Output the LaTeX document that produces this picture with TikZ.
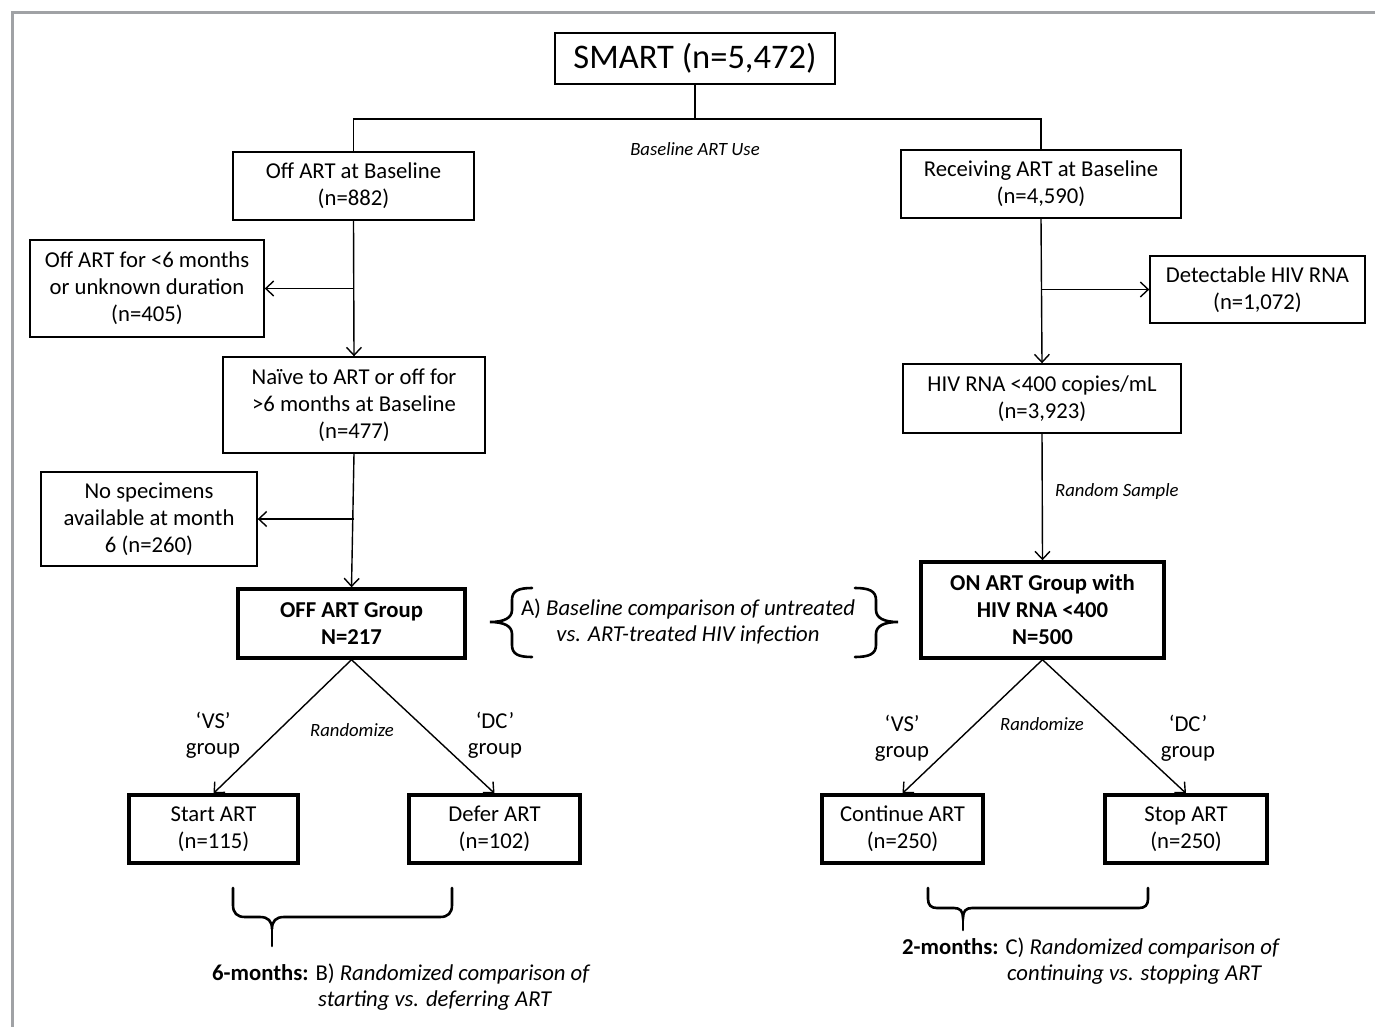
\documentclass[tikz,border=0pt]{standalone}
\usepackage{fontspec}
\setmainfont{Carlito}
\usetikzlibrary{arrows.meta}
\definecolor{framegray}{RGB}{160,162,165}
\tikzset{
  box/.style={draw, line width=1.4pt, align=center, inner sep=0pt,
    font=\fontsize{22.7}{27}\selectfont},
  thickbox/.style={box, line width=3.4pt},
  lbl/.style={align=center, inner sep=0pt, font=\fontsize{22.7}{26}\selectfont},
  note/.style={inner sep=0pt, font=\fontsize{18.7}{22}\selectfont\itshape},
  link/.style={line width=1.4pt},
  arr/.style={link, -{Straight Barb[length=8pt,width=15pt,line width=1.4pt]}},
  curly/.style={line width=2.6pt, line cap=round}
}
\begin{document}
\begin{tikzpicture}[x=1pt,y=-1pt]
\useasboundingbox (0,0) rectangle (1375,1027);
\draw[framegray, line width=3pt] (12,1027) -- (12,13) -- (1375,13);

% boxes
\node[box, minimum width=280, minimum height=51, font=\fontsize{34.5}{40}\selectfont] (smart) at (695,58.5) {SMART (n=5,472)};
\node[box, minimum width=241, minimum height=68] (offbase) at (353.5,186) {Off ART at Baseline\\(n=882)};
\node[box, minimum width=280, minimum height=68] (recvbase) at (1041,184) {Receiving ART at Baseline\\(n=4,590)};
\node[box, minimum width=234, minimum height=97] (offshort) at (147,288.5) {Off ART for <6 months\\or unknown duration\\(n=405)};
\node[box, minimum width=262, minimum height=96] (naive) at (354,405) {Naïve to ART or off for\\>6 months at Baseline\\(n=477)};
\node[box, minimum width=216, minimum height=94] (nospec) at (149,519) {No specimens\\available at month\\6 (n=260)};
\node[thickbox, minimum width=227, minimum height=69, font=\fontsize{22.7}{27}\selectfont\bfseries] (offgrp) at (351.5,623.5) {OFF ART Group\\N=217};
\node[box, minimum width=215, minimum height=67] (detect) at (1257.5,289.5) {Detectable HIV RNA\\(n=1,072)};
\node[box, minimum width=278, minimum height=69] (hivrna) at (1042,398.5) {HIV RNA <400 copies/mL\\(n=3,923)};
\node[thickbox, minimum width=243, minimum height=96, font=\fontsize{22.7}{27}\selectfont\bfseries] (ongrp) at (1042.5,610) {ON ART Group with\\HIV RNA <400\\N=500};
\node[thickbox, minimum width=169, minimum height=68] (start) at (213.5,829) {Start ART\\(n=115)};
\node[thickbox, minimum width=171, minimum height=68] (defer) at (494.5,829) {Defer ART\\(n=102)};
\node[thickbox, minimum width=161, minimum height=68] (cont) at (902.5,829) {Continue ART\\(n=250)};
\node[thickbox, minimum width=162, minimum height=68] (stop) at (1186,829) {Stop ART\\(n=250)};

% top split
\coordinate (split) at (695,119);
\draw[link] (smart.south) -- (split);
\draw[link] (split) -| (offbase.north);
\draw[link] (split) -| (recvbase.north);
\node[note] (useart) at (695,149) {Baseline ART Use};

% left chain
\draw[arr] (offbase.south) -- (naive.north);
\draw[arr] (offbase.south |- offshort.east) -- (offshort.east);
\draw[arr] (naive.south) -- (offgrp.north);
\draw[arr] (naive.south |- nospec.east) -- (nospec.east);

% right chain
\draw[arr] (recvbase.south) -- (hivrna.north);
\draw[arr] (recvbase.south |- detect.west) -- (detect.west);
\draw[arr] (hivrna.south) -- (ongrp.north);
\node[note, anchor=west] (sample) at (1055,492) {Random Sample};

% randomisation
\draw[arr] (offgrp.south) -- (start.north);
\draw[arr] (offgrp.south) -- (defer.north);
\draw[arr] (ongrp.south) -- (cont.north);
\draw[arr] (ongrp.south) -- (stop.north);
\node[note] (randl) at (352,730) {Randomize};
\node[note] (randr) at (1042,724) {Randomize};
\node[lbl] (vsl) at (213,735) {‘VS’\\group};
\node[lbl] (dcl) at (495,735) {‘DC’\\group};
\node[lbl] (vsr) at (902,738) {‘VS’\\group};
\node[lbl] (dcr) at (1188,738) {‘DC’\\group};

% comparison A
\draw[curly] (532,588) .. controls (518,588) and (512,591) .. (512,600) -- (512,610)
  .. controls (512,618) and (504,622) .. (490,622) .. controls (504,622) and (512,626) .. (512,634)
  -- (512,645) .. controls (512,654) and (518,657) .. (532,657);
\draw[curly] (855,588) .. controls (869,588) and (876,591) .. (876,600) -- (876,610)
  .. controls (876,618) and (884,622) .. (898,622) .. controls (884,622) and (876,626) .. (876,634)
  -- (876,645) .. controls (876,654) and (869,657) .. (855,657);
\node[lbl] (cmpa) at (688,622) {A) \textit{Baseline comparison of untreated}\\\textit{vs. ART-treated HIV infection}};

% comparison B
\draw[curly] (233,888) -- (233,905) .. controls (233,913) and (237,917) .. (245,917) -- (260,917)
  .. controls (268,917) and (272,921) .. (272,929) .. controls (272,921) and (276,917) .. (284,917)
  -- (440,917) .. controls (448,917) and (452,913) .. (452,905) -- (452,888);
\draw[curly] (272,929) -- (272,946);
\node[lbl, anchor=west] (cmpb1) at (212,974) {\textbf{6-months:} B) \textit{Randomized comparison of}};
\node[lbl, anchor=west] (cmpb2) at (318,1001) {\textit{starting vs. deferring ART}};

% comparison C
\draw[curly] (928,888) -- (928,899) .. controls (928,905) and (931,908) .. (937,908) -- (954,908)
  .. controls (960,908) and (963,911) .. (963,918) .. controls (963,911) and (966,908) .. (972,908)
  -- (1139,908) .. controls (1145,908) and (1148,905) .. (1148,899) -- (1148,888);
\draw[curly] (963,918) -- (963,930);
\node[lbl, anchor=west] (cmpc1) at (902,948) {\textbf{2-months:} C) \textit{Randomized comparison of}};
\node[lbl, anchor=west] (cmpc2) at (1007,975) {\textit{continuing vs. stopping ART}};
\end{tikzpicture}
\end{document}
